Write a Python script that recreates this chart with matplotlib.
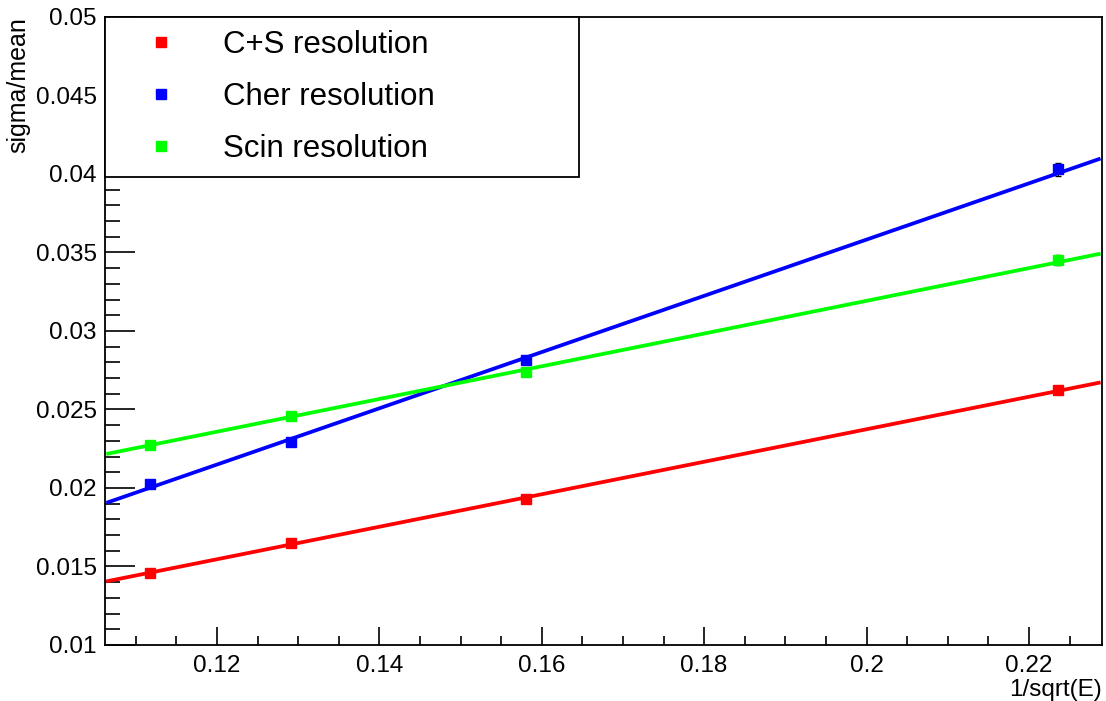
import matplotlib.pyplot as plt
import numpy as np

plt.rcParams["font.family"] = ["Liberation Sans", "DejaVu Sans"]

# 1/sqrt(E) for E = 80, 60, 40, 20 GeV
inv_sqrt_e = [0.1118, 0.1291, 0.1581, 0.2236]

cs_res = [0.01460, 0.01648, 0.01928, 0.02624]
cs_err = [0.00012, 0.00012, 0.00014, 0.00018]
cher_res = [0.02024, 0.02295, 0.02815, 0.04030]
cher_err = [0.00015, 0.00016, 0.00020, 0.00042]
scin_res = [0.02274, 0.02459, 0.02741, 0.03452]
scin_err = [0.00012, 0.00013, 0.00016, 0.00030]

# linear fit results (intercept, slope)
cs_fit = (0.00304, 0.1035)
cher_fit = (0.00000, 0.1791)
scin_fit = (0.01108, 0.1042)
fit_range = (0.1066, 0.2286)

series = [
    ("C+S resolution", cs_res, cs_err, cs_fit, "#ff0000"),
    ("Cher resolution", cher_res, cher_err, cher_fit, "#0000ff"),
    ("Scin resolution", scin_res, scin_err, scin_fit, "#00ff00"),
]

fig = plt.figure(figsize=(11.06, 7.01), dpi=100)
ax = fig.add_axes([0.0949, 0.0799, 0.9014, 0.8959])

xf = np.linspace(fit_range[0], fit_range[1], 50)
handles = []
for label, vals, errs, fit, color in series:
    ax.plot(xf, fit[0] + fit[1] * xf, color=color, lw=2.7, zorder=2)
    ax.errorbar(inv_sqrt_e, vals, yerr=errs, fmt="none", ecolor="black",
                elinewidth=0.8, capsize=2.5, capthick=1.0, zorder=3)
    h, = ax.plot(inv_sqrt_e, vals, ls="none", marker="s", ms=6.5,
                 color=color, mec=color, zorder=4, label=label)
    handles.append(h)

ax.set_xlim(0.10621, 0.22899)
ax.set_ylim(0.01, 0.05)

ax.set_xticks([0.12, 0.14, 0.16, 0.18, 0.2, 0.22])
ax.set_xticklabels(["0.12", "0.14", "0.16", "0.18", "0.2", "0.22"])
ax.set_xticks(np.arange(0.11, 0.2291, 0.005), minor=True)
ax.set_yticks([0.01, 0.015, 0.02, 0.025, 0.03, 0.035, 0.04, 0.045, 0.05])
ax.set_yticklabels(["0.01", "0.015", "0.02", "0.025", "0.03", "0.035",
                    "0.04", "0.045", "0.05"])
ax.set_yticks(np.arange(0.01, 0.0501, 0.001), minor=True)

ax.tick_params(axis="both", which="both", direction="in", top=False,
               right=False, labelsize=17.5, width=1.2)
ax.tick_params(axis="x", which="major", length=13, pad=7)
ax.tick_params(axis="x", which="minor", length=6.5)
ax.tick_params(axis="y", which="major", length=21.6, pad=6)
ax.tick_params(axis="y", which="minor", length=10.8)

for s in ax.spines.values():
    s.set_linewidth(1.3)

ax.set_xlabel("1/sqrt(E)", fontsize=17.5, loc="right", labelpad=2)
ax.set_ylabel("sigma/mean", fontsize=18, loc="top", labelpad=4)

leg = ax.legend(handles=handles, loc="upper left",
                bbox_to_anchor=(0, 0.7516, 0.4754, 0.2484), mode="expand",
                borderaxespad=0, fontsize=22.5, frameon=True, fancybox=False,
                framealpha=1, edgecolor="black", borderpad=0.42,
                labelspacing=0.70, handlelength=2.72, handletextpad=0.65,
                numpoints=1)
leg.get_frame().set_linewidth(1.3)
leg.set_zorder(5)

fig.savefig("out.png", dpi=100)
